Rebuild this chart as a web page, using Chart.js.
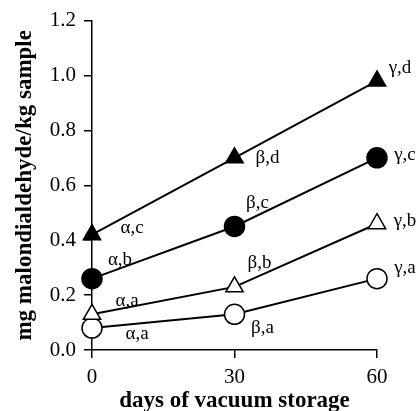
<!DOCTYPE html>
<html>
<head>
<meta charset="utf-8">
<script src="https://cdn.jsdelivr.net/npm/chart.js@4/dist/chart.umd.min.js"></script>
<style>
  html, body { margin: 0; padding: 0; background: #fff; }
  #wrap { width: 419px; height: 411px; }
</style>
</head>
<body>
<div id="wrap"><canvas id="chart" width="419" height="411"></canvas></div>
<script>
// days of vacuum storage
const days = [0, 30, 60];

// mg malondialdehyde / kg sample
const filledTriangle = [0.42, 0.70, 0.98];
const filledCircle = [0.26, 0.45, 0.70];
const openTriangle = [0.13, 0.23, 0.46];
const openCircle = [0.08, 0.13, 0.26];

// significance letters next to each point
const filledTriangleLabels = ["α,c", "β,d", "γ,d"];
const filledCircleLabels = ["α,b", "β,c", "γ,c"];
const openTriangleLabels = ["α,a", "β,b", "γ,b"];
const openCircleLabels = ["α,a", "β,a", "γ,a"];

const yTicks = [0.0, 0.2, 0.4, 0.6, 0.8, 1.0, 1.2];

const FONT = "'Liberation Serif', 'Times New Roman', serif";

const toPoints = (values) => values.map((v, i) => ({ x: days[i], y: v }));

function series(values, style, fill, labels) {
  return {
    data: toPoints(values),
    labels: labels,
    borderColor: '#000',
    borderWidth: 2,
    pointStyle: style,
    pointRadius: 10,
    pointHoverRadius: 10,
    pointBackgroundColor: fill,
    pointBorderColor: '#000',
    pointBorderWidth: 1.5,
    tension: 0,
    fill: false,
    clip: false
  };
}

// where the letters sit relative to their point (px)
const labelOffsets = [
  [[40, -7], [33, 0], [23, -13]],
  [[28, -19], [23, -23], [28, -3]],
  [[35, -13], [25, -24], [28, -3]],
  [[45, 6], [28, 14], [28, -11]]
];

const pointLabels = {
  id: 'pointLabels',
  afterDatasetsDraw(chart) {
    const ctx = chart.ctx;
    ctx.save();
    ctx.fillStyle = '#000';
    ctx.font = `19px ${FONT}`;
    ctx.textAlign = 'center';
    ctx.textBaseline = 'middle';
    chart.data.datasets.forEach((ds, i) => {
      const meta = chart.getDatasetMeta(i);
      meta.data.forEach((pt, j) => {
        const off = labelOffsets[i][j];
        ctx.fillText(ds.labels[j], pt.x + off[0], pt.y + off[1]);
      });
    });
    ctx.restore();
  }
};

new Chart(document.getElementById('chart'), {
  type: 'line',
  data: {
    datasets: [
      series(filledTriangle, 'triangle', '#000', filledTriangleLabels),
      series(filledCircle, 'circle', '#000', filledCircleLabels),
      series(openTriangle, 'triangle', '#fff', openTriangleLabels),
      series(openCircle, 'circle', '#fff', openCircleLabels)
    ]
  },
  options: {
    responsive: false,
    animation: false,
    layout: { padding: { left: 11, right: 42, top: 16, bottom: 0 } },
    plugins: {
      legend: { display: false },
      tooltip: { enabled: false }
    },
    scales: {
      x: {
        type: 'linear',
        min: 0,
        max: 60,
        afterBuildTicks: (scale) => { scale.ticks = days.map(v => ({ value: v })); },
        afterFit: (scale) => { scale.height = 61; },
        ticks: {
          color: '#000',
          font: { family: FONT, size: 21 },
          padding: 7,
          maxRotation: 0
        },
        grid: { drawOnChartArea: false, drawTicks: true, tickLength: 8, color: '#000', lineWidth: 1.5 },
        border: { display: true, color: '#000', width: 1.5 },
        title: {
          display: true,
          text: 'days of vacuum storage',
          color: '#000',
          font: { family: FONT, size: 23, weight: 'bold', lineHeight: 0.9 },
          padding: { top: 0, bottom: 0 }
        }
      },
      y: {
        min: 0,
        max: 1.2,
        afterBuildTicks: (scale) => { scale.ticks = yTicks.map(v => ({ value: v })); },
        afterFit: (scale) => { scale.width = 81; },
        ticks: {
          color: '#000',
          font: { family: FONT, size: 21 },
          padding: 8,
          callback: (v) => Number(v).toFixed(1)
        },
        grid: { drawOnChartArea: false, drawTicks: true, tickLength: 8, color: '#000', lineWidth: 1.5 },
        border: { display: true, color: '#000', width: 1.5 },
        title: {
          display: true,
          text: 'mg malondialdehyde/kg sample',
          color: '#000',
          font: { family: FONT, size: 23, weight: 'bold' },
          padding: { top: 0, bottom: 0 }
        }
      }
    }
  },
  plugins: [pointLabels]
});
</script>
</body>
</html>
